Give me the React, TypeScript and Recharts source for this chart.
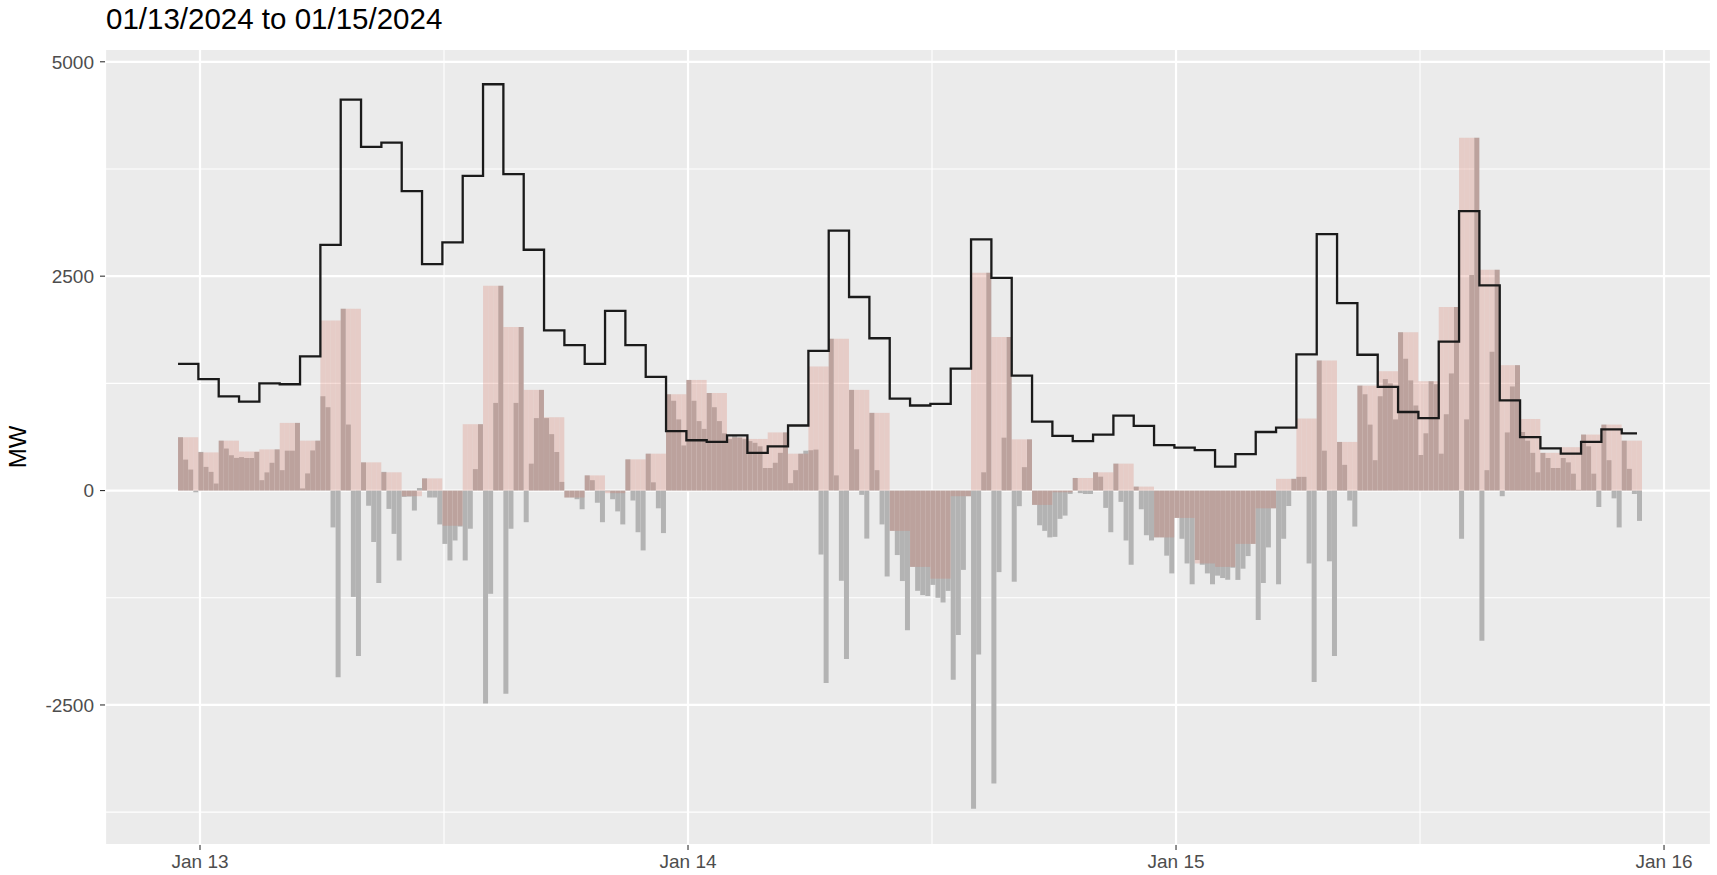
import React from 'react';
import { ComposedChart, Bar, Line, XAxis, YAxis, CartesianGrid } from 'recharts';

document.body.style.margin = '0';

// hours are counted from Jan 13 00:00; the first hourly block starts a bit before midnight
const FIRST_HOUR = -1.08;

// hourly block values (MW), 72 hours
const hourlyMW = [
  622, 445, 582, 455, 480, 789, 582, 1984, 2120, 329, 213, -66,
  142, -410, 774, 2388, 1908, 1174, 855, -81, 177, -30, 364, 430,
  1123, 1290, 1138, 620, 602, 678, 430, 1447, 1771, 1174, 906, -470,
  -890, -1027, -66, 2540, 1791, 597, -167, -20, 147, 213, 314, 46,
  -546, -319, -850, -890, -622, -207, 137, 840, 1518, 567, 1224, 1392,
  1847, 1275, 2140, 4114, 2576, 1462, 835, 440, 506, 653, 769, 582,
];

// hourly step line (MW)
const stepMW = [
  1478, 1300, 1098, 1037, 1250, 1240, 1564, 2864, 4559, 4008, 4058, 3491,
  2641, 2894, 3669, 4738, 3689, 2808, 1867, 1695, 1478, 2095, 1695, 1326,
  693, 587, 567, 643, 440, 516, 759, 1629, 3031, 2257, 1776, 1073,
  992, 1012, 1422, 2930, 2479, 1341, 805, 638, 577, 653, 875, 754,
  531, 501, 471, 278, 425, 683, 734, 1589, 2990, 2186, 1584, 1209,
  916, 845, 1736, 3259, 2393, 1052, 622, 491, 430, 567, 713, 668,
];

// 15-minute values (MW), four per hour
const quarterMW = [
  622, 361, 245, -20, 451, 276, 218, 82, 582, 490, 412, 381,
  390, 380, 380, 451, 121, 212, 324, 480, 238, 465, 465, 789,
  25, 200, 468, 582, 1100, 972, -430, -2176, 2120, 770, -1240, -1928,
  329, -177, -600, -1078, 218, -214, -505, -816, -74, -70, -233, 30,
  142, -81, -81, -395, -622, -815, -582, -420, -815, -445, 250, 774,
  -2484, -1204, 1022, 2388, -2368, -445, 1022, 1908, -369, 314, 845, 1174,
  845, 658, 450, 101, -81, -81, -101, -218, 177, 121, -142, -369,
  -10, -101, -243, -395, 364, -116, -486, -698, 430, 96, -207, -496,
  1123, 1047, 830, 526, 1290, 1047, 810, 719, 1138, 972, 810, 668,
  600, 640, 620, 600, 577, 557, 516, 263, 263, 324, 440, 678,
  86, 238, 430, 465, 470, 478, -746, -2243, 1771, 177, -1052, -1963,
  1174, 481, -50, -560, 906, 238, -395, -1002, -470, -752, -1055, -1630,
  -890, -1169, -1219, -1230, -1100, -1250, -1305, -1170, -2206, -1684, -925, -66,
  -3709, -1913, 213, 2540, -3416, -951, 617, 1791, -1063, -182, 273, 597,
  -167, -405, -470, -546, -540, -330, -292, -39, 147, -30, -40, -40,
  213, 162, -202, -486, 314, -132, -582, -865, 46, -218, -521, -582,
  -546, -546, -759, -966, -319, -562, -850, -1093, -810, -865, -966, -1093,
  -992, -1020, -1040, -900, -1042, -911, -764, -622, -1508, -1078, -663, -207,
  -1093, -562, -180, 137, 160, 160, -850, -2231, 1518, 465, -825, -1928,
  567, 300, -116, -420, 1224, 1123, 769, 354, 1100, 1300, 1250, 830,
  1847, 1538, 1285, 992, 415, 668, 1275, 1240, 430, 890, 1366, 2140,
  -562, 830, 2515, 4114, -1751, 238, 1619, 2576, -66, 678, 1214, 1462,
  683, 582, 440, 213, 440, 380, 263, 263, 380, 329, 197, 10,
  653, 516, 197, -192, 769, 354, -91, -430, 582, 253, -40, -354,
];

const dayTicks = [0, 24, 48, 72];
const dayLabels = ['Jan 13', 'Jan 14', 'Jan 15', 'Jan 16'];
const halfDayTicks = [12, 36, 60];
const mwTicks = [-2500, 0, 2500, 5000];
const mwMinorTicks = [-3750, -1250, 1250, 3750];

const xDomain = [-4.672, 74.31];
const yDomain = [-4133, 5149];

const rows = quarterMW.map((v, k) => {
  const h = Math.floor(k / 4);
  const start = FIRST_HOUR + k * 0.25;
  return { t: start + 0.125, start, rt: v, da: hourlyMW[h], sched: stepMW[h] };
});

const font = '"Liberation Sans", Arial, sans-serif';
const tickStyle = { fill: '#4D4D4D', fontSize: 19, fontFamily: font };

export default function App() {
  return (
    <div style={{ position: 'relative', width: 1717, height: 875, background: '#fff', fontFamily: font }}>
      <div style={{ position: 'absolute', left: 106, top: 4, fontSize: 29.5, lineHeight: 1, color: '#000' }}>
        01/13/2024 to 01/15/2024
      </div>
      <div
        style={{
          position: 'absolute', left: 18, top: 447, fontSize: 24, lineHeight: 1, color: '#000',
          transform: 'translate(-50%, -50%) rotate(-90deg)', whiteSpace: 'nowrap',
        }}
      >
        MW
      </div>
      <ComposedChart
        width={1717}
        height={875}
        data={rows}
        margin={{ top: 49, right: 6, left: 0, bottom: 0 }}
        barCategoryGap={0}
        barGap={0}
        style={{ overflow: 'visible' }}
      >
        {/* minor grid on the hidden axes, major grid on the visible ones */}
        <CartesianGrid xAxisId="q" yAxisId="g" fill="#EBEBEB" stroke="#FFFFFF" strokeWidth={1.1} />
        <CartesianGrid xAxisId="p" yAxisId="0" fill="none" stroke="#FFFFFF" strokeWidth={2.2} />
        <XAxis
          xAxisId="p"
          dataKey="t"
          type="number"
          domain={xDomain}
          allowDataOverflow
          ticks={dayTicks}
          tickFormatter={(v) => dayLabels[dayTicks.indexOf(v)]}
          tick={tickStyle}
          tickSize={5}
          tickMargin={5}
          tickLine={{ stroke: '#333333', strokeWidth: 1.1 }}
          axisLine={false}
          height={30}
        />
        <XAxis xAxisId="q" orientation="top" height={0} dataKey="t" type="number" domain={xDomain} allowDataOverflow ticks={halfDayTicks} hide />
        <XAxis xAxisId="l" orientation="top" height={0} dataKey="start" type="number" domain={xDomain} allowDataOverflow hide />
        <YAxis
          yAxisId="0"
          type="number"
          domain={yDomain}
          allowDataOverflow
          ticks={mwTicks}
          tick={tickStyle}
          tickSize={5}
          tickMargin={6}
          tickLine={{ stroke: '#333333', strokeWidth: 1.1 }}
          axisLine={false}
          width={105}
        />
        <YAxis yAxisId="g" orientation="right" width={0} type="number" domain={yDomain} allowDataOverflow ticks={mwMinorTicks} hide />
        <Bar xAxisId="q" yAxisId="g" dataKey="rt" fill="#B3B3B3" isAnimationActive={false} />
        <Bar xAxisId="p" yAxisId="0" dataKey="da" fill="#D7705A" fillOpacity={0.25} isAnimationActive={false} />
        <Line
          xAxisId="l"
          yAxisId="0"
          dataKey="sched"
          type="stepAfter"
          stroke="#1A1A1A"
          strokeWidth={2.3}
          dot={false}
          isAnimationActive={false}
        />
      </ComposedChart>
    </div>
  );
}
